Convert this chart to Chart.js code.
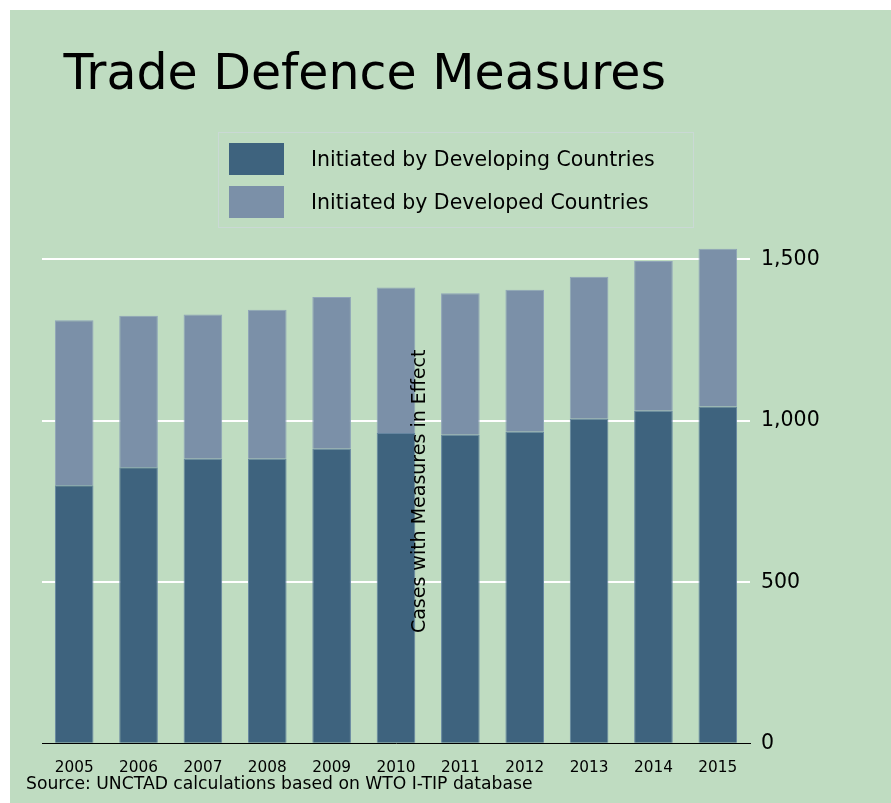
<!DOCTYPE html>
<html>
<head>
<meta charset="utf-8">
<title>Trade Defence Measures</title>
<script src="https://cdn.jsdelivr.net/npm/chart.js@4.4.0/dist/chart.umd.min.js"></script>
<style>
  body { margin: 0; background: #ffffff; }
  #panel { position: absolute; left: 10px; top: 10px; width: 881px; height: 793px; background: #bfdcc1; }
  #legend {
    position: absolute; left: 208px; top: 122px; width: 476px; height: 96px;
    box-sizing: border-box; border: 1px solid #cad9d5; padding: 10px 0 0 10px;
    font-family: 'DejaVu Sans', sans-serif; font-size: 20.5px; color: #000;
  }
  .item { display: flex; align-items: center; height: 32px; margin-bottom: 11px; }
  .swatch { width: 55px; height: 32px; margin-right: 27px; }
</style>
</head>
<body>
<div id="panel">
  <canvas id="chart"></canvas>
  <div id="legend"></div>
</div>
<script>
const titleText = 'Trade Defence Measures';
const sourceText = 'Source: UNCTAD calculations based on WTO I-TIP database';
const yTitleText = 'Cases with Measures in Effect';

const years = ['2005', '2006', '2007', '2008', '2009', '2010', '2011', '2012', '2013', '2014', '2015'];
const developing = [800, 856, 882, 882, 913, 962, 957, 966, 1006, 1031, 1044];
const developed = [511, 469, 447, 462, 470, 451, 438, 440, 440, 464, 489];
const yTicks = [0, 500, 1000, 1500];

const font = "'DejaVu Sans', sans-serif";

// moves the title / source note sideways and writes the axis title over the bars
const placeText = {
    id: 'placeText',
    afterLayout(chart) {
        chart.boxes.forEach(box => {
            if (!box.options) return;
            if (box.options.text === titleText) { box.left += 21.5; box.right += 21.5; }
            if (box.options.text === sourceText) { box.left -= 16; box.right -= 16; }
        });
    },
    afterDraw(chart) {
        const { ctx, chartArea } = chart;
        ctx.save();
        ctx.translate((chartArea.left + chartArea.right) / 2 + 24, (chartArea.top + chartArea.bottom) / 2 + 6);
        ctx.rotate(-Math.PI / 2);
        ctx.font = "19px " + font;
        ctx.fillStyle = '#000';
        ctx.textAlign = 'center';
        ctx.textBaseline = 'middle';
        ctx.fillText(yTitleText, 0, 0);
        ctx.restore();
    }
};

const ctx = document.getElementById('chart').getContext('2d');
const chart = new Chart(ctx, {
    type: 'bar',
    data: {
        labels: years,
        datasets: [
            {
                label: 'Initiated by Developing Countries',
                data: developing,
                backgroundColor: '#3e637e',
                borderColor: '#6585a0',
                borderWidth: 1
            },
            {
                label: 'Initiated by Developed Countries',
                data: developed,
                backgroundColor: '#7b90a8',
                borderColor: '#8fa4b8',
                borderWidth: 1
            }
        ]
    },
    options: {
        responsive: true,
        maintainAspectRatio: false,
        animation: false,
        layout: { padding: { left: 32, right: 0, top: 0, bottom: 8.2 } },
        datasets: { bar: { barPercentage: 0.6, categoryPercentage: 1 } },
        plugins: {
            legend: { display: false },
            tooltip: { enabled: false },
            title: {
                display: true,
                text: titleText,
                align: 'start',
                color: '#000',
                font: { family: font, size: 49, weight: 'normal' },
                padding: { top: 37, bottom: 121.2 }
            },
            subtitle: {
                display: true,
                text: sourceText,
                position: 'bottom',
                align: 'start',
                color: '#000',
                font: { family: font, size: 17.2, weight: 'normal' },
                padding: { top: -5.5, bottom: 0 }
            }
        },
        scales: {
            x: {
                stacked: true,
                grid: { display: false, drawTicks: false },
                border: { display: true, color: '#000', width: 1 },
                ticks: { color: '#000', font: { family: font, size: 15.3 }, padding: 15.5, maxRotation: 0 },
                afterFit(axis) { axis.height = 36; }
            },
            y: {
                stacked: true,
                position: 'right',
                min: 0,
                max: 1600,
                afterBuildTicks(axis) { axis.ticks = yTicks.map(v => ({ value: v })); },
                afterFit(axis) { axis.width = 141; },
                grid: {
                    drawTicks: false,
                    lineWidth: 2,
                    color: c => c.tick && c.tick.value === 0 ? 'rgba(0,0,0,0)' : '#ffffff'
                },
                border: { display: false },
                ticks: {
                    color: '#000',
                    padding: 11,
                    font: { family: font, size: 20.5 },
                    callback: v => v.toLocaleString('en-US')
                }
            }
        }
    },
    plugins: [placeText]
});

// html legend built from the chart's own legend items
const legendBox = document.getElementById('legend');
chart.options.plugins.legend.labels.generateLabels(chart).forEach(item => {
    const row = document.createElement('div');
    row.className = 'item';
    const sw = document.createElement('span');
    sw.className = 'swatch';
    sw.style.background = item.fillStyle;
    const txt = document.createElement('span');
    txt.textContent = item.text;
    row.appendChild(sw);
    row.appendChild(txt);
    legendBox.appendChild(row);
});
</script>
</body>
</html>
